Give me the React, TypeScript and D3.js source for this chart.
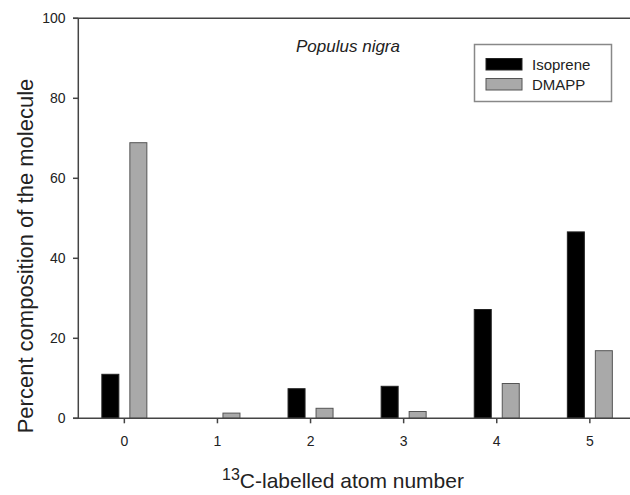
import React from "react";
import * as d3 from "d3";

const categories = ["0", "1", "2", "3", "4", "5"];
const seriesNames = ["Isoprene", "DMAPP"];
const isopreneValues = [11.0, 0, 7.4, 8.0, 27.2, 46.6];
const dmappValues = [68.9, 1.3, 2.5, 1.7, 8.7, 16.9];
const yTicks = [0, 20, 40, 60, 80, 100];
const seriesColors = ["#000000", "#a9a9a9"];
const seriesStrokes = ["#222222", "#555555"];

const W = 630;
const H = 495;
const FONT = "Arial, 'Liberation Sans', Helvetica, sans-serif";

export default function App() {
  const x0 = d3.scaleBand<string>().domain(categories).range([77.8, 636.4]).padding(0);
  const x1 = d3
    .scaleBand<string>()
    .domain(seriesNames)
    .range([-22.5, 22.5])
    .paddingInner(0.393)
    .paddingOuter(0);
  const y = d3.scaleLinear().domain([0, 100]).range([418.3, 18.3]);
  const values = [isopreneValues, dmappValues];
  const axisColor = "#444";
  const textColor = "#222";

  return (
    <svg
      width={W}
      height={H}
      style={{ position: "absolute", left: 0, top: 0, background: "#fff" }}
      fontFamily={FONT}
    >
      <rect x={0} y={0} width={W} height={H} fill="#fff" />
      {/* bars */}
      {seriesNames.map((s, si) =>
        categories.map((c, ci) => {
          const v = values[si][ci];
          if (v <= 0) return null;
          const cx = (x0(c) ?? 0) + x0.bandwidth() / 2;
          return (
            <rect
              key={s + c}
              x={cx + (x1(s) ?? 0)}
              y={y(v)}
              width={x1.bandwidth()}
              height={y(0) - y(v)}
              fill={seriesColors[si]}
              stroke={seriesStrokes[si]}
              strokeWidth={1}
            />
          );
        })
      )}
      {/* axes */}
      <line x1={78.3} x2={78.3} y1={y(100)} y2={y(0)} stroke={axisColor} strokeWidth={1.5} />
      <line x1={73} x2={W} y1={y(0)} y2={y(0)} stroke={axisColor} strokeWidth={1.5} />
      <line x1={73} x2={W} y1={y(100)} y2={y(100)} stroke={axisColor} strokeWidth={1.5} />
      {yTicks.map((t) => (
        <g key={"yt" + t}>
          <line x1={73} x2={78.3} y1={y(t)} y2={y(t)} stroke={axisColor} strokeWidth={1.5} />
          <text
            x={65.5}
            y={y(t)}
            dy="0.35em"
            textAnchor="end"
            fontSize={14}
            fill={textColor}
          >
            {t}
          </text>
        </g>
      ))}
      {categories.map((c) => {
        const cx = (x0(c) ?? 0) + x0.bandwidth() / 2;
        return (
          <g key={"xt" + c}>
            <line x1={cx} x2={cx} y1={y(0)} y2={y(0) + 5} stroke={axisColor} strokeWidth={1.5} />
            <text x={cx} y={446} textAnchor="middle" fontSize={14} fill={textColor}>
              {c}
            </text>
          </g>
        );
      })}
      {/* axis titles */}
      <text
        transform={`translate(33,256) rotate(-90)`}
        textAnchor="middle"
        fontSize={22}
        fill={textColor}
      >
        Percent composition of the molecule
      </text>
      <text x={343} y={488} textAnchor="middle" fontSize={21} fill={textColor}>
        <tspan fontSize={16} dy={-8}>13</tspan>
        <tspan dy={8}>C-labelled atom number</tspan>
      </text>
      {/* title */}
      <text x={348} y={52} textAnchor="middle" fontSize={17} fontStyle="italic" fill={textColor}>
        Populus nigra
      </text>
      {/* legend */}
      <rect x={474.5} y={44.5} width={137} height={57} fill="#fff" stroke="#888" strokeWidth={1.5} />
      {seriesNames.map((s, si) => (
        <g key={"lg" + s}>
          <rect
            x={486}
            y={58.5 + si * 20}
            width={36}
            height={11.5}
            fill={seriesColors[si]}
            stroke={seriesStrokes[si]}
            strokeWidth={1}
          />
          <text x={532} y={64.5 + si * 20} dy="0.35em" fontSize={15} fill={textColor}>
            {s}
          </text>
        </g>
      ))}
    </svg>
  );
}
